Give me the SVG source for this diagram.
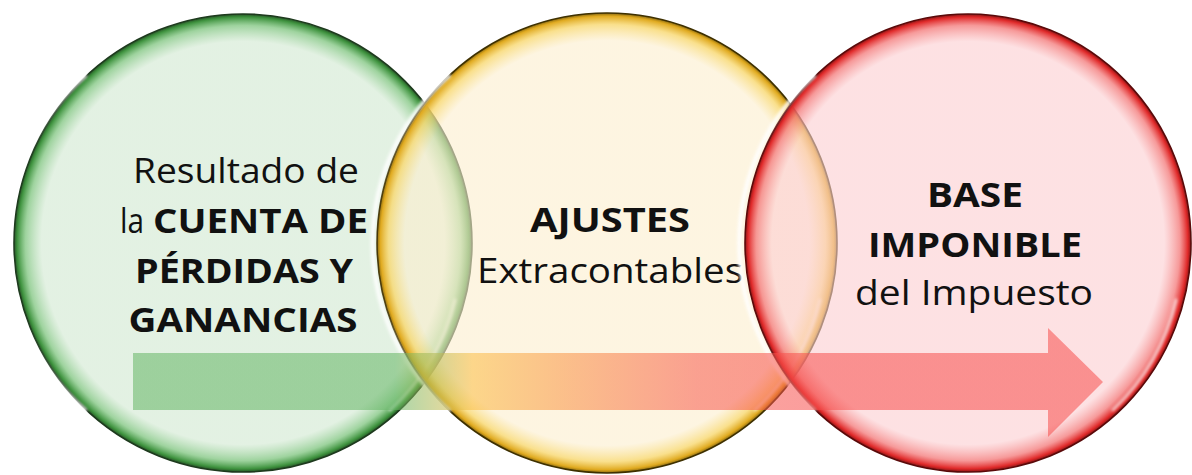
<svg xmlns="http://www.w3.org/2000/svg" width="1192" height="475" viewBox="0 0 1192 475">
<style>
.t{font-family:"Open Sans","Noto Sans","Liberation Sans",sans-serif;font-size:34.5px;fill:#111;text-anchor:middle}
.s{text-anchor:start}
.b{font-weight:bold}
.hl{fill:none;stroke:#fff;stroke-linecap:round}
.ol{fill:none;stroke-width:1.6}
</style>
<defs>
<linearGradient id="arrowG" gradientUnits="userSpaceOnUse" x1="133" y1="0" x2="1103" y2="0">
<stop offset="0" stop-color="#64b564"/>
<stop offset="0.27" stop-color="#64b564"/>
<stop offset="0.35" stop-color="#fbbd43"/>
<stop offset="0.44" stop-color="#f99543"/>
<stop offset="0.58" stop-color="#f75b4e"/>
<stop offset="0.7" stop-color="#f74e4c"/>
<stop offset="1" stop-color="#f74e4c"/>
</linearGradient>
<radialGradient id="gG" cx="0.5" cy="0.5" r="0.5">
<stop offset="0" stop-color="#d0e8d0" stop-opacity="0.6"/>
<stop offset="0.88" stop-color="#d0e8d0" stop-opacity="0.6"/>
<stop offset="0.95" stop-color="#86c886" stop-opacity="0.8"/>
<stop offset="0.986" stop-color="#3f933f"/>
<stop offset="1" stop-color="#255525"/>
</radialGradient>
<radialGradient id="gY" cx="0.5" cy="0.5" r="0.5">
<stop offset="0" stop-color="#fceecd" stop-opacity="0.6"/>
<stop offset="0.88" stop-color="#fceecd" stop-opacity="0.6"/>
<stop offset="0.95" stop-color="#f8d870" stop-opacity="0.8"/>
<stop offset="0.986" stop-color="#e0aa20"/>
<stop offset="1" stop-color="#8a6a10"/>
</radialGradient>
<radialGradient id="gR" cx="0.5" cy="0.5" r="0.5">
<stop offset="0" stop-color="#fccdd0" stop-opacity="0.6"/>
<stop offset="0.88" stop-color="#fccdd0" stop-opacity="0.6"/>
<stop offset="0.95" stop-color="#f48080" stop-opacity="0.8"/>
<stop offset="0.986" stop-color="#e02a2a"/>
<stop offset="1" stop-color="#8a1515"/>
</radialGradient>
<filter id="blur" x="-10%" y="-10%" width="120%" height="120%"><feGaussianBlur stdDeviation="1.5"/></filter>
</defs>

<g id="node-resultado">
<circle cx="243" cy="243" r="229" fill="url(#gG)"/>
<circle class="ol" cx="243" cy="243" r="229" stroke="#1e3a1e"/>
<path class="hl" d="M 85 76 A 220 220 0 0 0 85 410" stroke-width="4" opacity="0.9" filter="url(#blur)"/>
<path class="hl" d="M 455 300 A 220 220 0 0 1 390 410" stroke-width="3" opacity="0.6" filter="url(#blur)"/>
<text class="t" x="246" y="183" textLength="226" lengthAdjust="spacingAndGlyphs">Resultado de</text>
<text class="t s" x="120" y="233" textLength="24" lengthAdjust="spacingAndGlyphs">la</text>
<text class="t s b" x="153" y="233" textLength="215" lengthAdjust="spacingAndGlyphs">CUENTA DE</text>
<text class="t b" x="244" y="283" textLength="218" lengthAdjust="spacingAndGlyphs">PÉRDIDAS Y</text>
<text class="t b" x="243" y="332" textLength="229" lengthAdjust="spacingAndGlyphs">GANANCIAS</text>
</g>

<g id="node-ajustes">
<circle cx="607" cy="243" r="230" fill="url(#gY)"/>
<circle class="ol" cx="607" cy="243" r="230" stroke="#3e3000"/>
<path class="hl" d="M 449 76 A 221 221 0 0 0 449 410" stroke-width="4" opacity="0.9" filter="url(#blur)"/>
<path class="hl" d="M 820 300 A 221 221 0 0 1 755 410" stroke-width="3" opacity="0.6" filter="url(#blur)"/>
<text class="t b" x="610" y="232" textLength="160" lengthAdjust="spacingAndGlyphs">AJUSTES</text>
<text class="t" x="610" y="283" textLength="266" lengthAdjust="spacingAndGlyphs">Extracontables</text>
</g>

<g id="node-base">
<ellipse cx="968" cy="243" rx="223" ry="229" fill="url(#gR)"/>
<ellipse class="ol" cx="968" cy="243" rx="223" ry="229" stroke="#5a0a0a"/>
<path class="hl" d="M 814 76 A 214 220 0 0 0 814 410" stroke-width="4" opacity="0.9" filter="url(#blur)"/>
<path class="hl" d="M 1176 300 A 214 220 0 0 1 1113 410" stroke-width="3" opacity="0.7" filter="url(#blur)"/>
<text class="t b" x="975" y="207" textLength="96" lengthAdjust="spacingAndGlyphs">BASE</text>
<text class="t b" x="975" y="257" textLength="214" lengthAdjust="spacingAndGlyphs">IMPONIBLE</text>
<text class="t" x="974" y="305" textLength="238" lengthAdjust="spacingAndGlyphs">del Impuesto</text>
</g>

<g id="connectors">
<polygon id="arrow" points="133,353 1048,353 1048,328 1103,382 1048,437 1048,410 133,410" fill="url(#arrowG)" opacity="0.55"/>
</g>
</svg>
